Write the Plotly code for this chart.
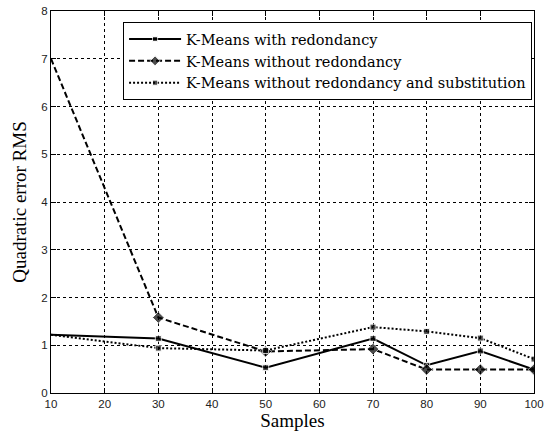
import plotly.graph_objects as go

samples = [10, 30, 50, 70, 80, 90, 100]
with_red = [1.22, 1.14, 0.53, 1.14, 0.58, 0.88, 0.49]
without_red = [7.0, 1.58, 0.87, 0.92, 0.49, 0.49, 0.49]
without_red_sub = [1.22, 0.94, 0.89, 1.38, 1.29, 1.15, 0.71]
names = ["K-Means with redondancy", "K-Means without redondancy",
         "K-Means without redondancy and substitution"]
xticks = [10, 20, 30, 40, 50, 60, 70, 80, 90, 100]
yticks = [0, 1, 2, 3, 4, 5, 6, 7, 8]

msize = [0] + [6] * (len(samples) - 1)
dsize = [0] + [9] * (len(samples) - 1)

fig = go.Figure()
fig.add_trace(go.Scatter(x=samples, y=with_red, name=names[0], mode="lines+markers",
                         line=dict(color="black", width=2, dash="solid"),
                         marker=dict(symbol="square", size=msize, color="black")))
fig.add_trace(go.Scatter(x=samples, y=without_red, name=names[1], mode="lines+markers",
                         line=dict(color="black", width=2, dash="6px,3px"),
                         marker=dict(symbol="diamond", size=dsize, color="black")))
fig.add_trace(go.Scatter(x=samples, y=without_red_sub, name=names[2], mode="lines+markers",
                         line=dict(color="black", width=2, dash="2px,2px"),
                         marker=dict(symbol="square", size=msize, color="black")))

serif = "Liberation Serif, Times New Roman"
axis_common = dict(showline=True, linecolor="black", linewidth=1, mirror="ticks",
                   ticks="inside", ticklen=5, tickcolor="black",
                   showgrid=True, gridcolor="black", griddash="3px,3px", gridwidth=0.8,
                   zeroline=False, automargin=False,
                   tickfont=dict(family="Liberation Sans, Arial", size=11.5, color="#222"))

fig.update_layout(
    width=550, height=437,
    margin=dict(l=51, r=16, t=11, b=44, autoexpand=False),
    paper_bgcolor="white", plot_bgcolor="white",
    showlegend=True,
    legend=dict(x=0.996, y=0.971, xanchor="right", yanchor="top",
                bordercolor="black", borderwidth=1, bgcolor="white",
                font=dict(family="DejaVu Serif", size=14.5, color="black"),
                tracegroupgap=0, itemwidth=52),
    xaxis=dict(range=[10, 100], tickvals=xticks,
               title=dict(text="Samples", standoff=3,
                          font=dict(family=serif, size=19, color="black")),
               **axis_common),
    yaxis=dict(range=[0, 8], tickvals=yticks,
               title=dict(text="Quadratic error RMS", standoff=9,
                          font=dict(family=serif, size=19, color="black")),
               **axis_common),
)

fig.write_html("out.html", config={"displayModeBar": False},
               post_script="document.body.style.margin='0px';")
